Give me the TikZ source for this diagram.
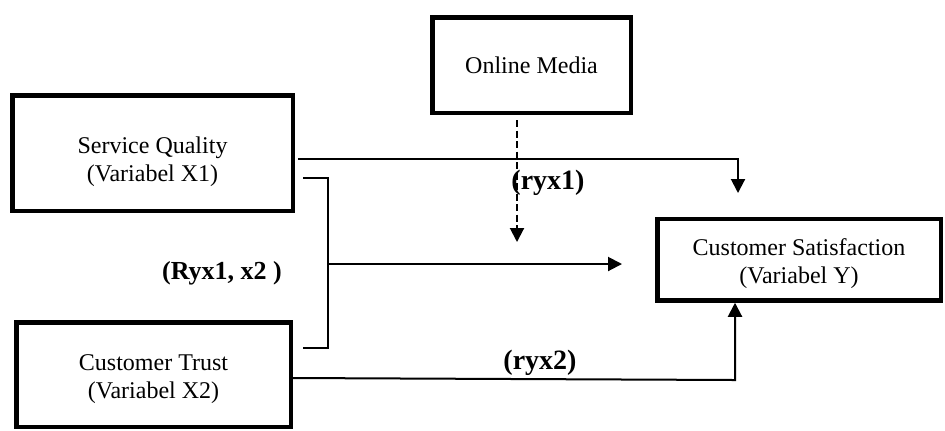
\documentclass[tikz,border=0pt]{standalone}
\usepackage{fontspec}
\setmainfont{Liberation Serif}
\usetikzlibrary{arrows.meta}
\begin{document}
\begin{tikzpicture}[x=0.5pt,y=-0.5pt,
  box/.style={draw, line width=2.25pt, inner sep=0pt},
  txt/.style={align=center, inner sep=0pt, font=\fontsize{12}{14}\selectfont},
  conn/.style={line width=1pt},
  brk/.style={line width=0.8pt},
  arr/.style={conn, -{Triangle[width=7pt,length=7pt]}},
  lab/.style={inner sep=0pt, font=\bfseries\fontsize{14}{16}\selectfont}]
\useasboundingbox (0,0) rectangle (945,430);
% boxes
\node[box, minimum width=140.25pt, minimum height=57.75pt,
  label={[txt, yshift=-4.5pt]center:Service Quality\\(Variabel X1)}] (sq) at (152.5,153) {};
\node[box, minimum width=137.25pt, minimum height=52.25pt,
  label={[txt, yshift=-2.5pt]center:Customer Trust\\(Variabel X2)}] (ct) at (153.5,374.5) {};
\node[box, minimum width=99.25pt, minimum height=47.75pt,
  label={[txt]center:Online Media}] (om) at (531.5,65) {};
\node[box, minimum width=141.75pt, minimum height=40.75pt,
  label={[txt, yshift=-2pt]center:Customer Satisfaction\\(Variabel Y)}] (cs) at (799,259.75) {};
% coordinates
\coordinate (t1) at (738,159);
\coordinate (t2) at (738,193);
\coordinate (b1) at (328,178);
\coordinate (b2) at (328,348);
\coordinate (bm) at (328,264);
\coordinate (d1) at (517,242);
\coordinate (v0) at (0,378);
\coordinate (v1) at (735,380);
% connectors
\draw[arr, shorten <=1.5pt] (sq.east |- t1) -- (t1) -- (t2);
\draw[brk, shorten <=4pt, shorten >=5pt] (sq.east |- b1) -- (b1) -- (b2) -- (ct.east |- b2);
\draw[arr, shorten >=16.5pt] (bm) -- (cs.west |- bm);
\draw[arr, dash pattern=on 3.5pt off 1.75pt, shorten <=2.5pt] (om.south -| d1) -- (d1);
\draw[arr] (ct.east |- v0) -- (v1) -- (cs.south -| v1);
% labels
\node[lab] (l1) at (548,183) {(ryx1)};
\node[lab] (l2) at (540,363) {(ryx2)};
\node[lab, font=\bfseries\fontsize{13}{15}\selectfont] (l3) at (222,273) {(Ryx1, x2 )};
\end{tikzpicture}
\end{document}
